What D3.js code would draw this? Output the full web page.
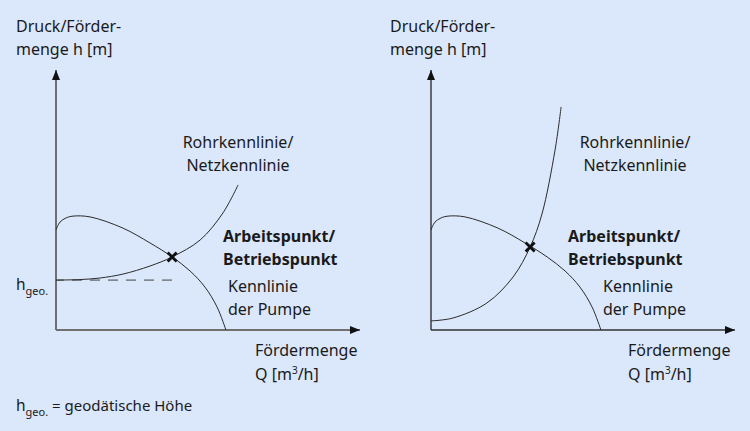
<!DOCTYPE html>
<html>
<head>
<meta charset="utf-8">
<script src="https://cdn.jsdelivr.net/npm/d3@7"></script>
<style>
  html, body { margin: 0; padding: 0; background: #dbe7fb; }
  svg { display: block; font-family: "Noto Sans", "Open Sans", sans-serif; }
</style>
</head>
<body>
<svg width="750" height="431"></svg>
<script>
let width = 750;
let height = 431;

// Kennlinie der Pumpe (Q, h) - same in both diagrams
let pumpQ = [0, 1.3, 3.3, 5.6, 11.2, 22.0, 30.9, 38.2, 44.1, 49.0, 53.0, 55.9];
let pumpH = [38.5, 41.5, 43.1, 43.8, 43.5, 39.2, 33.5, 28.1, 22.7, 16.5, 8.8, 0];

// Rohrkennlinie left (mit geodätischer Höhe)
let pipeLeftQ = [0, 7.9, 14.5, 22.0, 30.9, 38.2, 47.4, 54.9, 59.9];
let pipeLeftH = [19.2, 19.4, 20.0, 21.5, 24.6, 28.1, 34.6, 45.0, 55.8];

// Rohrkennlinie right
let pipeRightQ = [0, 7.2, 18.4, 27.0, 32.6, 36.5, 40.8, 42.8];
let pipeRightH = [3.5, 4.6, 10.4, 20.4, 31.9, 44.6, 69.2, 85.8];

let hGeo = 19.2;
let workLeft = [38.2, 28.1];
let workRight = [32.6, 31.9];

let zip = (qs, hs) => qs.map((q, i) => [q, hs[i]]);

let svg = d3.select('svg');

svg.append('defs')
  .append('marker')
    .attr('id', 'arrow')
    .attr('viewBox', '0 0 10 8')
    .attr('refX', 10)
    .attr('refY', 4)
    .attr('markerWidth', 10)
    .attr('markerHeight', 8)
    .attr('markerUnits', 'userSpaceOnUse')
    .attr('orient', 'auto')
  .append('path')
    .attr('d', 'M0,0 L10,4 L0,8 Z')
    .attr('fill', '#111');

function diagram(x0, pipe, work, axisColor, axisWidth, withGeo) {
  let x = d3.scaleLinear().domain([0, 100]).range([x0, x0 + 304]);
  let y = d3.scaleLinear().domain([0, 100]).range([330, 70]);
  let g = svg.append('g');

  // axes with arrows
  g.append('line')
    .attr('x1', x(0)).attr('y1', y(0))
    .attr('x2', x(0)).attr('y2', y(100))
    .attr('stroke', axisColor).attr('stroke-width', axisWidth)
    .attr('marker-end', 'url(#arrow)');
  g.append('line')
    .attr('x1', x(0)).attr('y1', y(0))
    .attr('x2', x(100)).attr('y2', y(0))
    .attr('stroke', axisColor).attr('stroke-width', axisWidth)
    .attr('marker-end', 'url(#arrow)');

  let line = d3.line()
    .x(d => x(d[0]))
    .y(d => y(d[1]))
    .curve(d3.curveCatmullRom);

  if (withGeo) {
    g.append('line')
      .attr('x1', x(0)).attr('y1', y(hGeo))
      .attr('x2', x(work[0])).attr('y2', y(hGeo))
      .attr('stroke', '#444').attr('stroke-width', 1)
      .attr('stroke-dasharray', '10,8')
      .attr('stroke-dashoffset', 2);
  }

  g.append('path')
    .datum(zip(pumpQ, pumpH))
    .attr('d', line)
    .attr('fill', 'none')
    .attr('stroke', '#2b2b2b')
    .attr('stroke-width', 1);

  g.append('path')
    .datum(pipe)
    .attr('d', line)
    .attr('fill', 'none')
    .attr('stroke', '#2b2b2b')
    .attr('stroke-width', 1);

  // Arbeitspunkt marker
  let cx = x(work[0]), cy = y(work[1]), s = 4.5;
  g.append('path')
    .attr('d', `M${cx - s},${cy - s}L${cx + s},${cy + s}M${cx - s},${cy + s}L${cx + s},${cy - s}`)
    .attr('stroke', '#111')
    .attr('stroke-width', 2.8);

  return g;
}

function label(lines, x, y, opts = {}) {
  let t = svg.append('text')
    .attr('x', x)
    .attr('y', y)
    .attr('font-size', 16)
    .attr('fill', '#1a1a1a')
    .attr('font-weight', opts.bold ? 700 : 400)
    .attr('text-anchor', opts.anchor || 'start');
  lines.forEach((l, i) => {
    t.append('tspan')
      .attr('x', x)
      .attr('dy', i === 0 ? 0 : 23)
      .text(l);
  });
  return t;
}

function qLabel(x) {
  label(['Fördermenge'], x, 356);
  let t = svg.append('text')
    .attr('x', x).attr('y', 380)
    .attr('font-size', 16).attr('fill', '#1a1a1a');
  t.append('tspan').text('Q [m');
  t.append('tspan').attr('font-size', 10).attr('dy', -6).text('3');
  t.append('tspan').attr('dy', 6).text('/h]');
}

function hGeoLabel(x, y, rest) {
  let t = svg.append('text')
    .attr('x', x).attr('y', y)
    .attr('font-size', 15.5).attr('fill', '#1a1a1a');
  t.append('tspan').text('h');
  t.append('tspan').attr('font-size', 11).attr('dy', 5).text('geo.');
  if (rest) t.append('tspan').attr('dy', -5).attr('font-size', 15).text(rest);
}

// left diagram
diagram(56, zip(pipeLeftQ, pipeLeftH), workLeft, '#707070', 2, true);
label(['Druck/Förder-', 'menge h [m]'], 16, 32);
label(['Rohrkennlinie/', 'Netzkennlinie'], 238, 148, { anchor: 'middle' });
label(['Arbeitspunkt/', 'Betriebspunkt'], 223, 242, { bold: true });
label(['Kennlinie', 'der Pumpe'], 228, 292);
qLabel(255);
hGeoLabel(16, 290);

// right diagram
diagram(431, zip(pipeRightQ, pipeRightH), workRight, '#333', 1.4, false);
label(['Druck/Förder-', 'menge h [m]'], 390, 32);
label(['Rohrkennlinie/', 'Netzkennlinie'], 635, 148, { anchor: 'middle' });
label(['Arbeitspunkt/', 'Betriebspunkt'], 568, 242, { bold: true });
label(['Kennlinie', 'der Pumpe'], 603, 292);
qLabel(628);

// footnote
hGeoLabel(16, 411, ' = geodätische Höhe');
</script>
</body>
</html>
